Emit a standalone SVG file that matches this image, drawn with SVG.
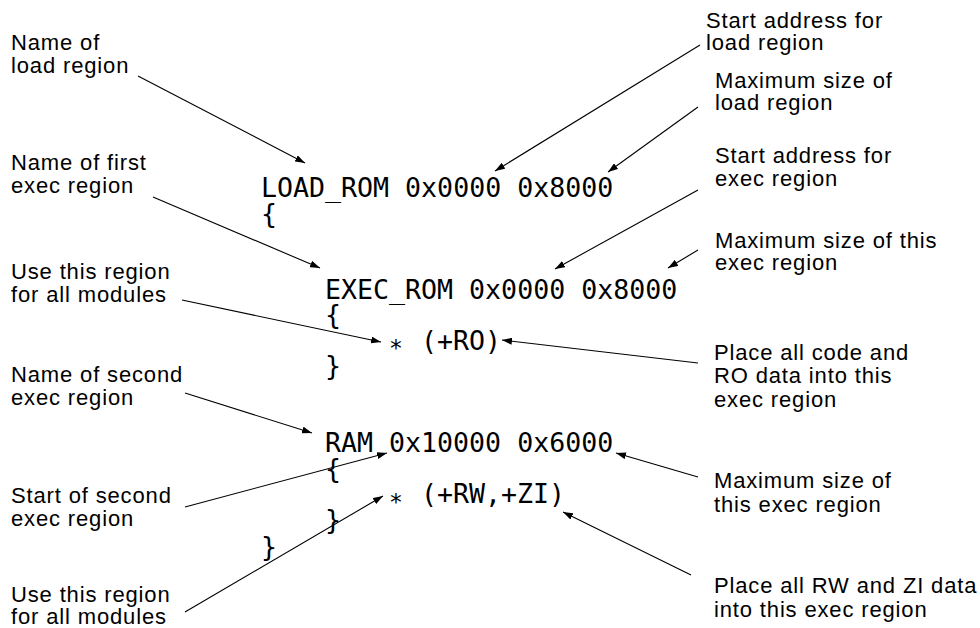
<svg xmlns="http://www.w3.org/2000/svg" width="980" height="628" viewBox="0 0 980 628">
<defs>
<marker id="ah" markerUnits="userSpaceOnUse" markerWidth="10" markerHeight="7" refX="10" refY="3.5" orient="auto">
<path d="M0,0 L10,3.5 L0,7 z" fill="#000"/>
</marker>
<style>
.lbl{font-family:"Liberation Sans",Arial,sans-serif;font-size:22px;letter-spacing:0.85px;fill:#000}
.code{font-family:"DejaVu Sans Mono",monospace;font-size:26.6px;fill:#000}
.ast{font-size:23px}
.conn line{stroke:#000;stroke-width:1.1;fill:none;marker-end:url(#ah)}
</style>
</defs>
<rect width="980" height="628" fill="#fff"/>
<g id="code">
<text class="code" x="261" y="197">LOAD_ROM 0x0000 0x8000</text>
<text class="code" x="261" y="222.5">{</text>
<text class="code" x="325" y="298.5">EXEC_ROM 0x0000 0x8000</text>
<text class="code" x="325" y="324">{</text>
<text class="code"><tspan class="ast" x="389" y="356">*</tspan><tspan x="421" y="349.5">(+RO)</tspan></text>
<text class="code" x="325" y="375">}</text>
<text class="code" x="325" y="452">RAM 0x10000 0x6000</text>
<text class="code" x="325" y="477.5">{</text>
<text class="code"><tspan class="ast" x="389" y="509.5">*</tspan><tspan x="421" y="503">(+RW,+ZI)</tspan></text>
<text class="code" x="325" y="529">}</text>
<text class="code" x="261" y="556">}</text>
</g>
<g id="lbl-load-name"><text class="lbl" x="11" y="50">Name of</text><text class="lbl" x="11" y="73">load region</text></g>
<g id="lbl-exec1-name"><text class="lbl" x="11" y="170">Name of first</text><text class="lbl" x="11" y="192.5">exec region</text></g>
<g id="lbl-use1"><text class="lbl" x="11" y="279">Use this region</text><text class="lbl" x="11" y="302">for all modules</text></g>
<g id="lbl-exec2-name"><text class="lbl" x="11" y="382">Name of second</text><text class="lbl" x="11" y="405">exec region</text></g>
<g id="lbl-exec2-start"><text class="lbl" x="11" y="503">Start of second</text><text class="lbl" x="11" y="525.5">exec region</text></g>
<g id="lbl-use2"><text class="lbl" x="11" y="602">Use this region</text><text class="lbl" x="11" y="624">for all modules</text></g>
<g id="lbl-load-start"><text class="lbl" x="706" y="28">Start address for</text><text class="lbl" x="706" y="50">load region</text></g>
<g id="lbl-load-max"><text class="lbl" x="715" y="88">Maximum size of</text><text class="lbl" x="715" y="110">load region</text></g>
<g id="lbl-exec1-start"><text class="lbl" x="715" y="163">Start address for</text><text class="lbl" x="715" y="186">exec region</text></g>
<g id="lbl-exec1-max"><text class="lbl" x="715" y="248">Maximum size of this</text><text class="lbl" x="715" y="270">exec region</text></g>
<g id="lbl-ro"><text class="lbl" x="714" y="360">Place all code and</text><text class="lbl" x="714" y="383">RO data into this</text><text class="lbl" x="714" y="406.5">exec region</text></g>
<g id="lbl-exec2-max"><text class="lbl" x="714" y="488">Maximum size of</text><text class="lbl" x="714" y="511.5">this exec region</text></g>
<g id="lbl-rwzi"><text class="lbl" x="714" y="593">Place all RW and ZI data</text><text class="lbl" x="714" y="616.5">into this exec region</text></g>
<g id="connectors" class="conn">
<line x1="138" y1="76" x2="305" y2="163"/>
<line x1="153" y1="197" x2="320" y2="268"/>
<line x1="700" y1="45" x2="495" y2="171"/>
<line x1="698" y1="107" x2="608" y2="172"/>
<line x1="698" y1="190" x2="555" y2="269"/>
<line x1="698" y1="250" x2="668" y2="268"/>
<line x1="182" y1="300" x2="381" y2="342"/>
<line x1="698" y1="363" x2="502" y2="340"/>
<line x1="185" y1="393" x2="312" y2="433"/>
<line x1="185" y1="507" x2="387" y2="453"/>
<line x1="698" y1="477" x2="616" y2="453"/>
<line x1="691" y1="575" x2="563" y2="512"/>
<line x1="185" y1="612" x2="383" y2="496"/>
</g>
</svg>
